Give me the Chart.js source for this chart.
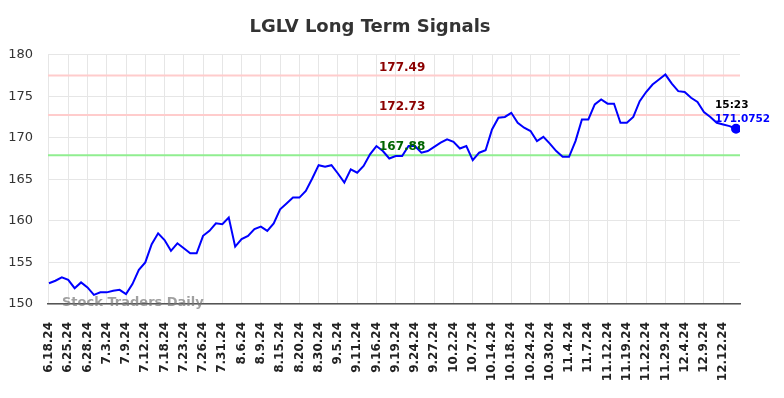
<!DOCTYPE html>
<html>
<head>
<meta charset="utf-8">
<script src="https://cdn.jsdelivr.net/npm/chart.js@4.4.1/dist/chart.umd.min.js"></script>
<style>
  body { margin: 0; background: #fff; }
</style>
</head>
<body>
<canvas id="grafico" width="784" height="398"></canvas>
<script>
// valores
const tickLabels = ["6.18.24", "6.25.24", "6.28.24", "7.3.24", "7.9.24", "7.12.24", "7.18.24", "7.23.24",
    "7.26.24", "7.31.24", "8.6.24", "8.9.24", "8.15.24", "8.20.24", "8.30.24", "9.5.24", "9.11.24",
    "9.16.24", "9.19.24", "9.24.24", "9.27.24", "10.2.24", "10.7.24", "10.14.24", "10.18.24",
    "10.24.24", "10.30.24", "11.4.24", "11.7.24", "11.12.24", "11.19.24", "11.22.24", "11.29.24",
    "12.4.24", "12.9.24", "12.12.24"];

const prices = [
    152.5, 152.8, 153.2, 152.9, 151.9, 152.6, 152.0, 151.1, 151.4, 151.4,
    151.6, 151.7, 151.2, 152.4, 154.1, 155.0, 157.2, 158.5, 157.7, 156.4,
    157.3, 156.7, 156.1, 156.1, 158.2, 158.8, 159.7, 159.6, 160.4, 156.9,
    157.8, 158.2, 159.0, 159.3, 158.8, 159.7, 161.4, 162.1, 162.8, 162.8,
    163.6, 165.1, 166.7, 166.5, 166.7, 165.7, 164.6, 166.2, 165.8, 166.6,
    168.0, 169.0, 168.4, 167.5, 167.8, 167.8, 169.0, 169.0, 168.2, 168.4,
    168.9, 169.4, 169.8, 169.5, 168.7, 169.0, 167.3, 168.2, 168.5, 171.0,
    172.4, 172.5, 173.0, 171.8, 171.2, 170.8, 169.6, 170.1, 169.3, 168.4,
    167.7, 167.7, 169.6, 172.2, 172.2, 174.0, 174.6, 174.1, 174.1, 171.8,
    171.8, 172.5, 174.4, 175.5, 176.4, 177.0, 177.6, 176.5, 175.6, 175.5,
    174.8, 174.3, 173.1, 172.5, 171.8, 171.6, 171.4, 171.0752
];

const resistLevels = [177.49, 172.73];
const supportLevels = [167.88];
const lastTime = "15:23";

const POINTS_PER_TICK = 3;
const xMin = -0.15, xMax = 107.62;
const lastIdx = prices.length - 1;

Chart.defaults.font.family = "'DejaVu Sans', sans-serif";

// líneas horizontales de niveles
const levelSet = (v, color) => ({
    data: [{ x: xMin, y: v }, { x: xMax, y: v }],
    borderColor: color,
    borderWidth: 2,
    pointRadius: 0,
    order: 2
});

// ➤ textos encima del gráfico
const textos = {
    id: "textos",
    afterDraw(chart) {
        const { ctx, scales: { x, y } } = chart;
        ctx.save();
        ctx.textAlign = "center";
        ctx.textBaseline = "middle";
        ctx.font = "bold 12px 'DejaVu Sans'";
        const lx = x.getPixelForValue(55);
        resistLevels.forEach(v => {
            ctx.fillStyle = "#8b0000";
            ctx.fillText(v.toFixed(2), lx, y.getPixelForValue(v) - 8);
        });
        supportLevels.forEach(v => {
            ctx.fillStyle = "#006400";
            ctx.fillText(v.toFixed(2), lx, y.getPixelForValue(v) - 8);
        });

        // último precio
        const px = x.getPixelForValue(lastIdx);
        const py = y.getPixelForValue(prices[lastIdx]);
        ctx.textAlign = "left";
        ctx.font = "bold 10.5px 'DejaVu Sans'";
        ctx.fillStyle = "#000";
        ctx.fillText(lastTime, px - 21, py - 24);
        ctx.fillStyle = "#0000ff";
        ctx.fillText(prices[lastIdx].toString(), px - 21, py - 10);

        // marca de agua
        ctx.font = "bold 13px 'DejaVu Sans'";
        ctx.fillStyle = "rgba(120,120,120,0.7)";
        ctx.fillText("Stock Traders Daily", chart.chartArea.left + 14, chart.chartArea.bottom - 1);
        ctx.restore();
    }
};

const ctx = document.getElementById("grafico").getContext("2d");
new Chart(ctx, {
    type: "line",
    data: {
        datasets: [
            {
                data: prices.map((p, i) => ({ x: i, y: p })),
                borderColor: "#0000ff",
                backgroundColor: "#0000ff",
                borderWidth: 2,
                tension: 0,
                pointRadius: c => c.dataIndex === lastIdx ? 4 : 0,
                order: 1
            },
            ...resistLevels.map(v => levelSet(v, "#ffcccc")),
            ...supportLevels.map(v => levelSet(v, "#90ee90"))
        ]
    },
    options: {
        responsive: false,
        animation: false,
        layout: { padding: { right: 44 } },
        plugins: {
            legend: { display: false },
            tooltip: { enabled: false },
            title: {
                display: true,
                text: "LGLV Long Term Signals",
                color: "#333",
                font: { size: 18, weight: "bold" },
                padding: { top: 17, bottom: 16 }
            }
        },
        scales: {
            x: {
                type: "linear",
                min: xMin,
                max: xMax,
                afterBuildTicks: s => {
                    s.ticks = tickLabels.map((_, k) => ({ value: k * POINTS_PER_TICK }));
                },
                afterFit: s => { s.height = 94; },
                grid: { color: "#e6e6e6", drawTicks: false },
                border: { color: "#555", width: 1.5 },
                ticks: {
                    autoSkip: false,
                    minRotation: 90,
                    maxRotation: 90,
                    padding: 18,
                    color: "#222",
                    font: { size: 12, weight: "bold" },
                    callback: v => tickLabels[Math.round(v / POINTS_PER_TICK)]
                }
            },
            y: {
                min: 150,
                max: 180,
                afterFit: s => { s.width = 48; },
                grid: { color: "#e6e6e6", drawTicks: false },
                border: { display: false },
                ticks: {
                    stepSize: 5,
                    padding: 15,
                    color: "#333",
                    font: { size: 13 }
                }
            }
        }
    },
    plugins: [textos]
});
</script>
</body>
</html>
